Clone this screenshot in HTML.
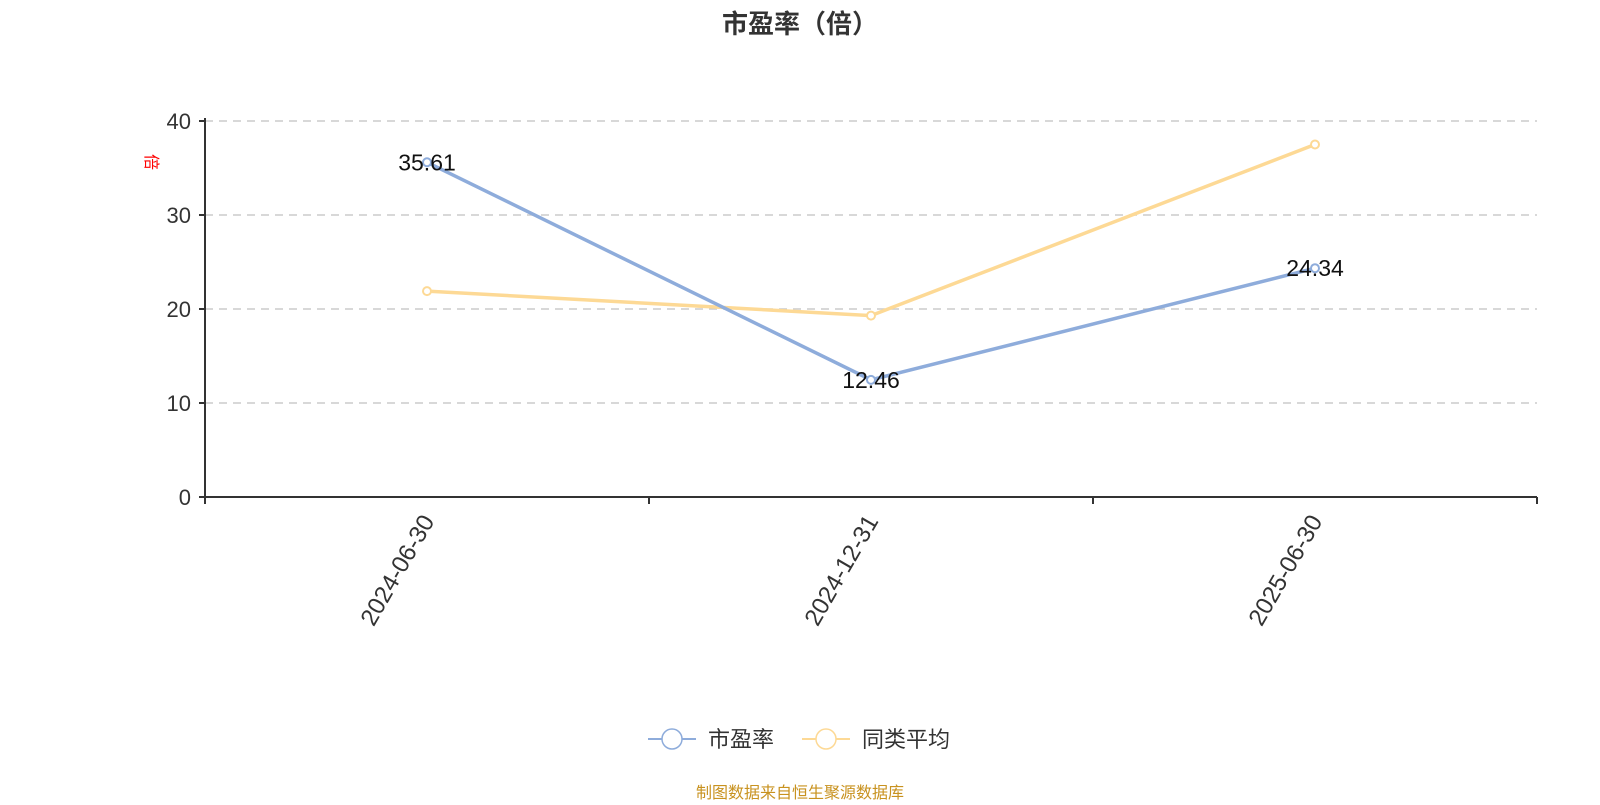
<!DOCTYPE html>
<html><head><meta charset="utf-8"><style>
body{margin:0;background:#fff;width:1600px;height:800px;overflow:hidden;font-family:"Liberation Sans","Noto Sans CJK SC",sans-serif}
</style></head><body>
<svg id="c" width="1600" height="800" font-family="Liberation Sans, Noto Sans CJK SC, sans-serif">
<text x="800" y="33" text-anchor="middle" font-size="26" font-weight="bold" fill="#333">市盈率（倍）</text>
<text transform="translate(146,162) rotate(90)" text-anchor="middle" font-size="16" fill="#f00">倍</text>
<g id="grid"></g><g id="axes"></g><g id="series"></g>
<g>
<g><line x1="648" y1="739" x2="696" y2="739" stroke="#8eacdb" stroke-width="2"/><circle cx="672" cy="739" r="10" fill="#fff" stroke="#8eacdb" stroke-width="1.5"/><text x="708" y="747" font-size="22" fill="#333">市盈率</text></g>
<g><line x1="802" y1="739" x2="850" y2="739" stroke="#fdd995" stroke-width="2"/><circle cx="826" cy="739" r="10" fill="#fff" stroke="#fdd995" stroke-width="1.5"/><text x="862" y="747" font-size="22" fill="#333">同类平均</text></g>
</g>
<text x="800" y="798" text-anchor="middle" font-size="16" fill="#c8921f">制图数据来自恒生聚源数据库</text>
</svg>
<script>
const categories=["2024-06-30","2024-12-31","2025-06-30"];
const peValues=[35.61,12.46,24.34];
const avgValues=[21.9,19.3,37.5];
const yTicks=[0,10,20,30,40];
const NS="http://www.w3.org/2000/svg";
const x0=205,x1=1537,y0=497,y1=121,yMax=40;
const bw=(x1-x0)/categories.length;
const xs=i=>x0+bw*(i+0.5);
const ys=v=>y0-(v/yMax)*(y0-y1);
function mk(t,a,p){const e=document.createElementNS(NS,t);for(const k in a)e.setAttribute(k,a[k]);p.appendChild(e);return e;}
const grid=document.getElementById('grid'),axes=document.getElementById('axes'),ser=document.getElementById('series');
yTicks.forEach(v=>{
 if(v>0){const g=mk('line',{x1:x0,x2:x1,y1:ys(v),y2:ys(v),stroke:'#ccc','stroke-dasharray':'8,6','stroke-width':1.5},grid);
 
 }
 const t=mk('line',{x1:x0-6,x2:x0,y1:ys(v),y2:ys(v),stroke:'#333','stroke-width':2},axes);
 
 
 const l=mk('text',{x:x0-14,y:ys(v)+8,'text-anchor':'end','font-size':22,fill:'#333'},axes);l.textContent=v;
 
 
});
const ya=mk('line',{x1:x0,x2:x0,y1:y1-3,y2:y0+6,stroke:'#333','stroke-width':2},axes);


const xa=mk('line',{x1:x0,x2:x1,y1:y0,y2:y0,stroke:'#333','stroke-width':2},axes);


for(let i=0;i<=categories.length;i++){const t=mk('line',{x1:x0+bw*i,x2:x0+bw*i,y1:y0,y2:y0+7,stroke:'#333','stroke-width':2},axes);
 
 }
categories.forEach((c,i)=>{const t=mk('text',{transform:`translate(${xs(i)+8},${y0+24}) rotate(-60)`,'text-anchor':'end','font-size':24,fill:'#333'},axes);t.textContent=c;
 
 });
function series(vals,color,name,labels){
 const p=mk('polyline',{points:vals.map((v,i)=>xs(i)+','+ys(v)).join(' '),fill:'none',stroke:color,'stroke-width':3.5},ser);
 
 
 vals.forEach((v,i)=>{const c=mk('circle',{cx:xs(i),cy:ys(v),r:4,fill:'#fff',stroke:color,'stroke-width':2},ser);
  
  
  if(labels){const t=mk('text',{x:xs(i),y:ys(v)+8,'text-anchor':'middle','font-size':23,fill:'#111'},ser);t.textContent=v.toFixed(2);
  
  }
 });
}
series(avgValues,'#fdd995','peer-average',false);
series(peValues,'#8eacdb','pe',true);
</script>
</body></html>
